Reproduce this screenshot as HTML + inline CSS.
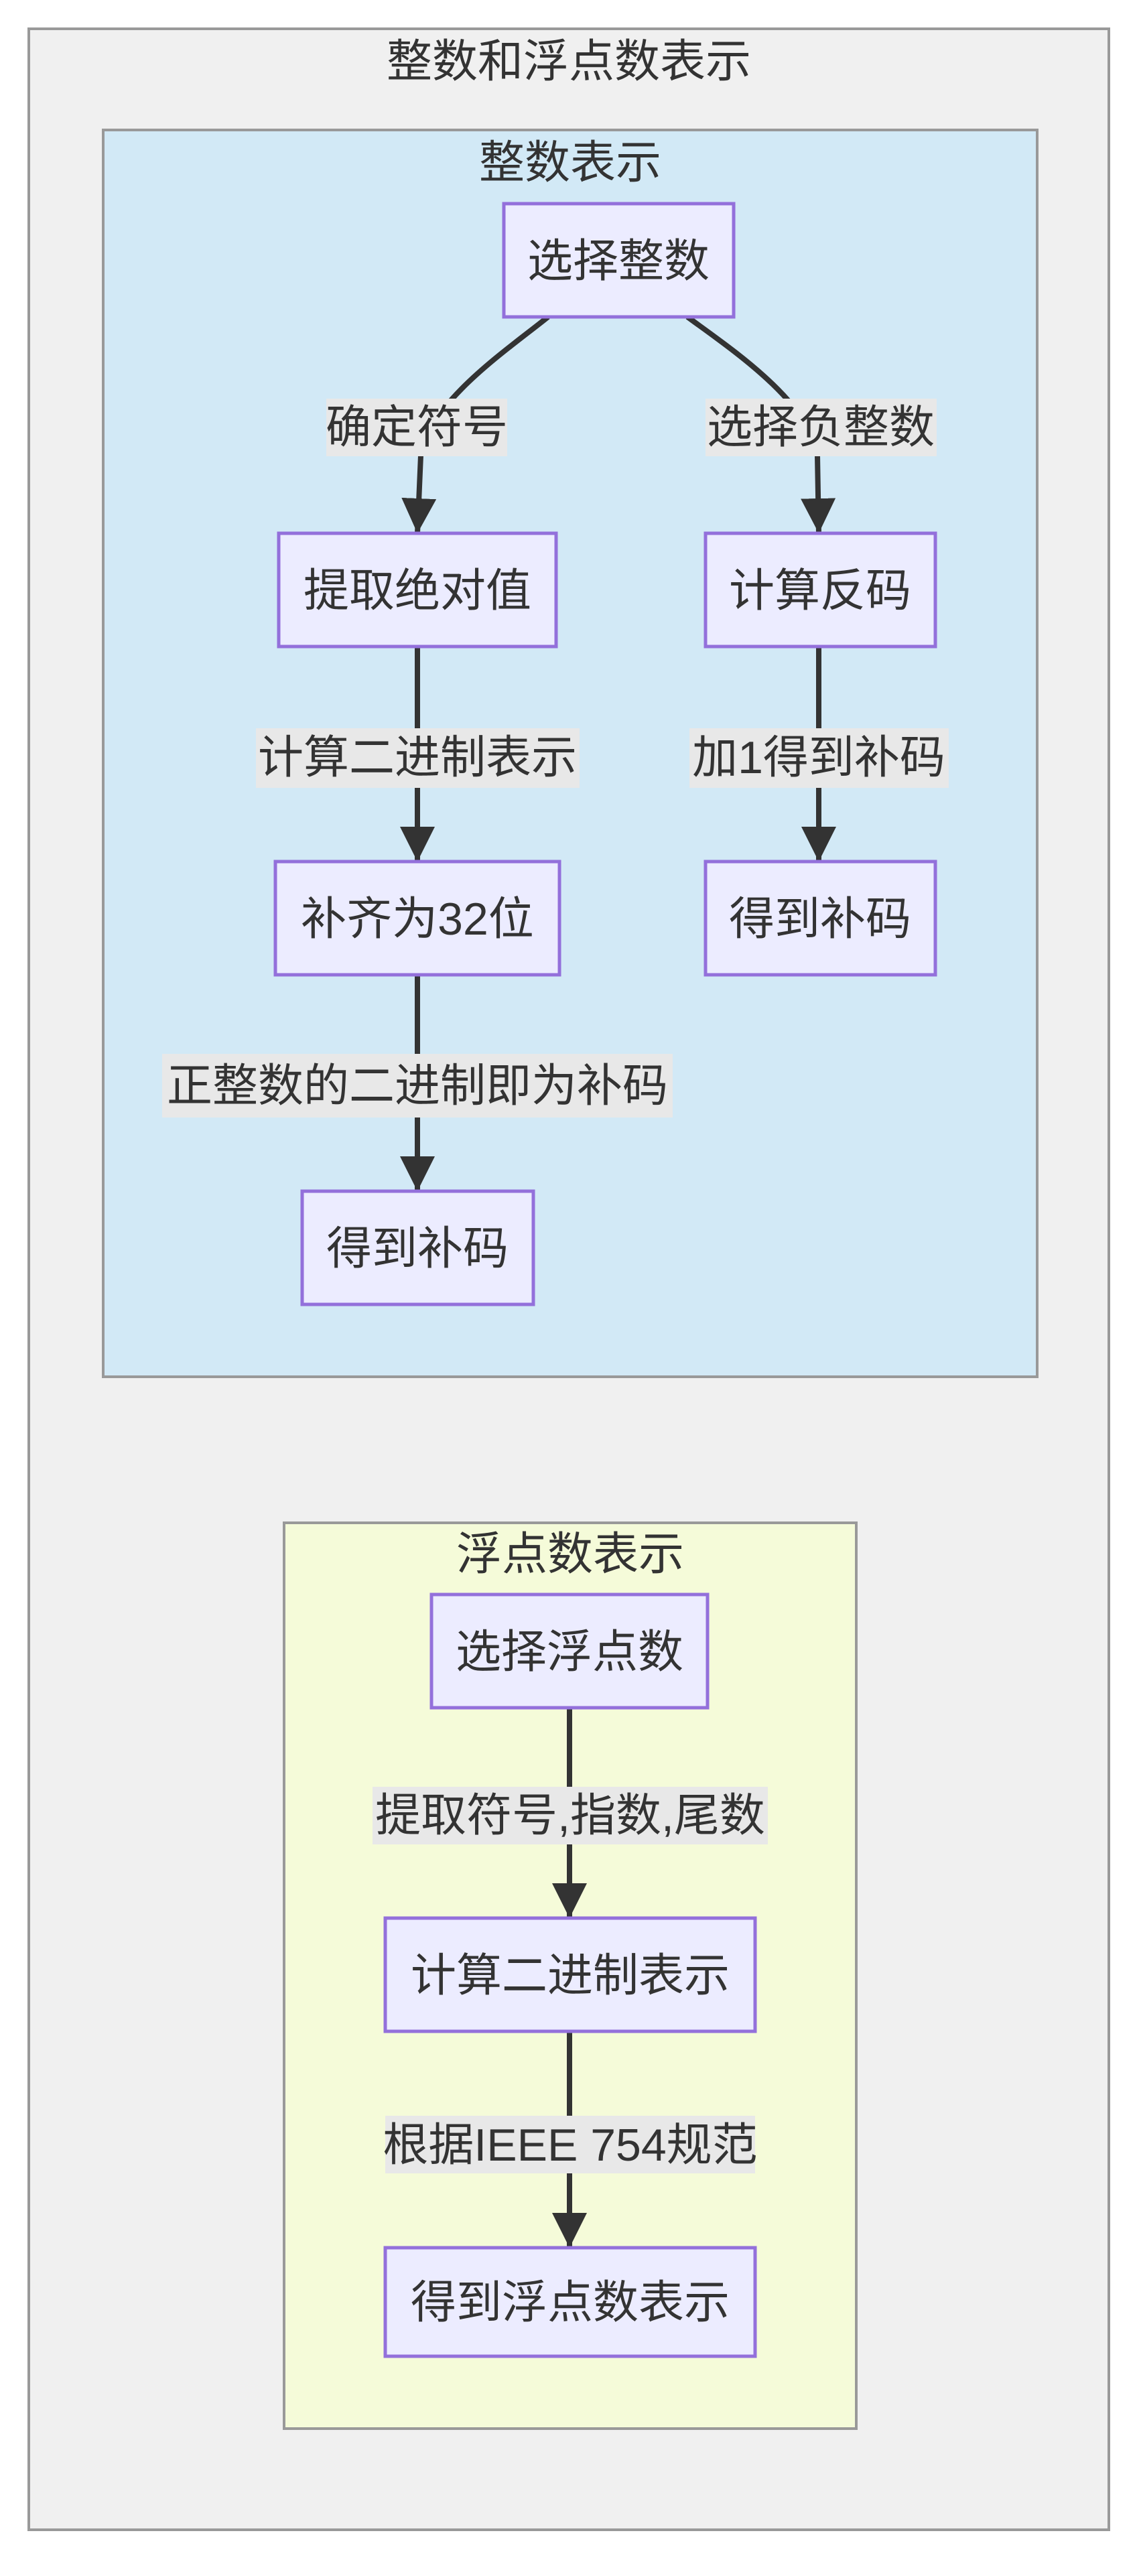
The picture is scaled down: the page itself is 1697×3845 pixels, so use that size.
<!DOCTYPE html>
<html><head><meta charset="utf-8"><style>
html,body{margin:0;padding:0;background:#fff}
svg text{font-family:"Liberation Sans","Noto Sans CJK SC",sans-serif;fill:#333;font-size:68px;text-anchor:middle;dominant-baseline:central}
</style></head><body>
<svg width="1697" height="3840" viewBox="0 0 1697 3840" xmlns="http://www.w3.org/2000/svg">
<defs><marker id="a" markerUnits="userSpaceOnUse" markerWidth="60" markerHeight="60" refX="52" refY="26" orient="auto"><path d="M0,0 L52,26 L0,52 Z" fill="#333"/></marker></defs>
<rect x="43" y="43" width="1612" height="3733" fill="#f0f0f0" stroke="#999" stroke-width="4"/>
<text x="849" y="92">整数和浮点数表示</text>
<rect x="154" y="194" width="1394" height="1861" fill="#d2e9f6" stroke="#999" stroke-width="4"/>
<text x="851" y="243">整数表示</text>
<rect x="424" y="2273" width="854" height="1352" fill="#f5fbd9" stroke="#999" stroke-width="4"/>
<text x="851" y="2320">浮点数表示</text>
<g fill="none" stroke="#333" stroke-width="8">
<path d="M818,473 C760,520 640,600 628,680 L623,796" marker-end="url(#a)"/>
<path d="M1026,473 C1090,520 1210,600 1220,680 L1222,796" marker-end="url(#a)"/>
<path d="M623,965 L623,1286" marker-end="url(#a)"/>
<path d="M623,1457 L623,1778" marker-end="url(#a)"/>
<path d="M1222,965 L1222,1286" marker-end="url(#a)"/>
<path d="M850,2549 L850,2863" marker-end="url(#a)"/>
<path d="M850,3032 L850,3355" marker-end="url(#a)"/>
</g>
<g fill="#e8e8e8">
<rect x="487" y="595" width="270" height="86"/>
<rect x="1053" y="595" width="345" height="86"/>
<rect x="382" y="1087" width="483" height="89"/>
<rect x="1029" y="1087" width="387" height="89"/>
<rect x="242" y="1573" width="762" height="95"/>
<rect x="556" y="2667" width="590" height="86"/>
<rect x="575" y="3158" width="552" height="86"/>
</g>
<text x="622" y="638">确定符号</text>
<text x="1225" y="638">选择负整数</text>
<text x="623" y="1131">计算二进制表示</text>
<text x="1222" y="1131">加1得到补码</text>
<text x="623" y="1621">正整数的二进制即为补码</text>
<text x="851" y="2710">提取符号,指数,尾数</text>
<text x="851" y="3202">根据IEEE 754规范</text>
<g fill="#ececff" stroke="#9370db" stroke-width="5">
<rect x="752" y="304" width="343" height="169"/>
<rect x="416" y="796" width="414" height="169"/>
<rect x="1053" y="796" width="343" height="169"/>
<rect x="411" y="1286" width="424" height="169"/>
<rect x="1053" y="1286" width="343" height="169"/>
<rect x="451" y="1778" width="345" height="169"/>
<rect x="644" y="2380" width="412" height="169"/>
<rect x="575" y="2863" width="552" height="169"/>
<rect x="575" y="3355" width="552" height="162"/>
</g>
<text x="923" y="390">选择整数</text>
<text x="623" y="882">提取绝对值</text>
<text x="1224" y="882">计算反码</text>
<text x="623" y="1372">补齐为32位</text>
<text x="1224" y="1372">得到补码</text>
<text x="623" y="1864">得到补码</text>
<text x="850" y="2466">选择浮点数</text>
<text x="851" y="2949">计算二进制表示</text>
<text x="851" y="3437">得到浮点数表示</text>
</svg>
</body></html>
